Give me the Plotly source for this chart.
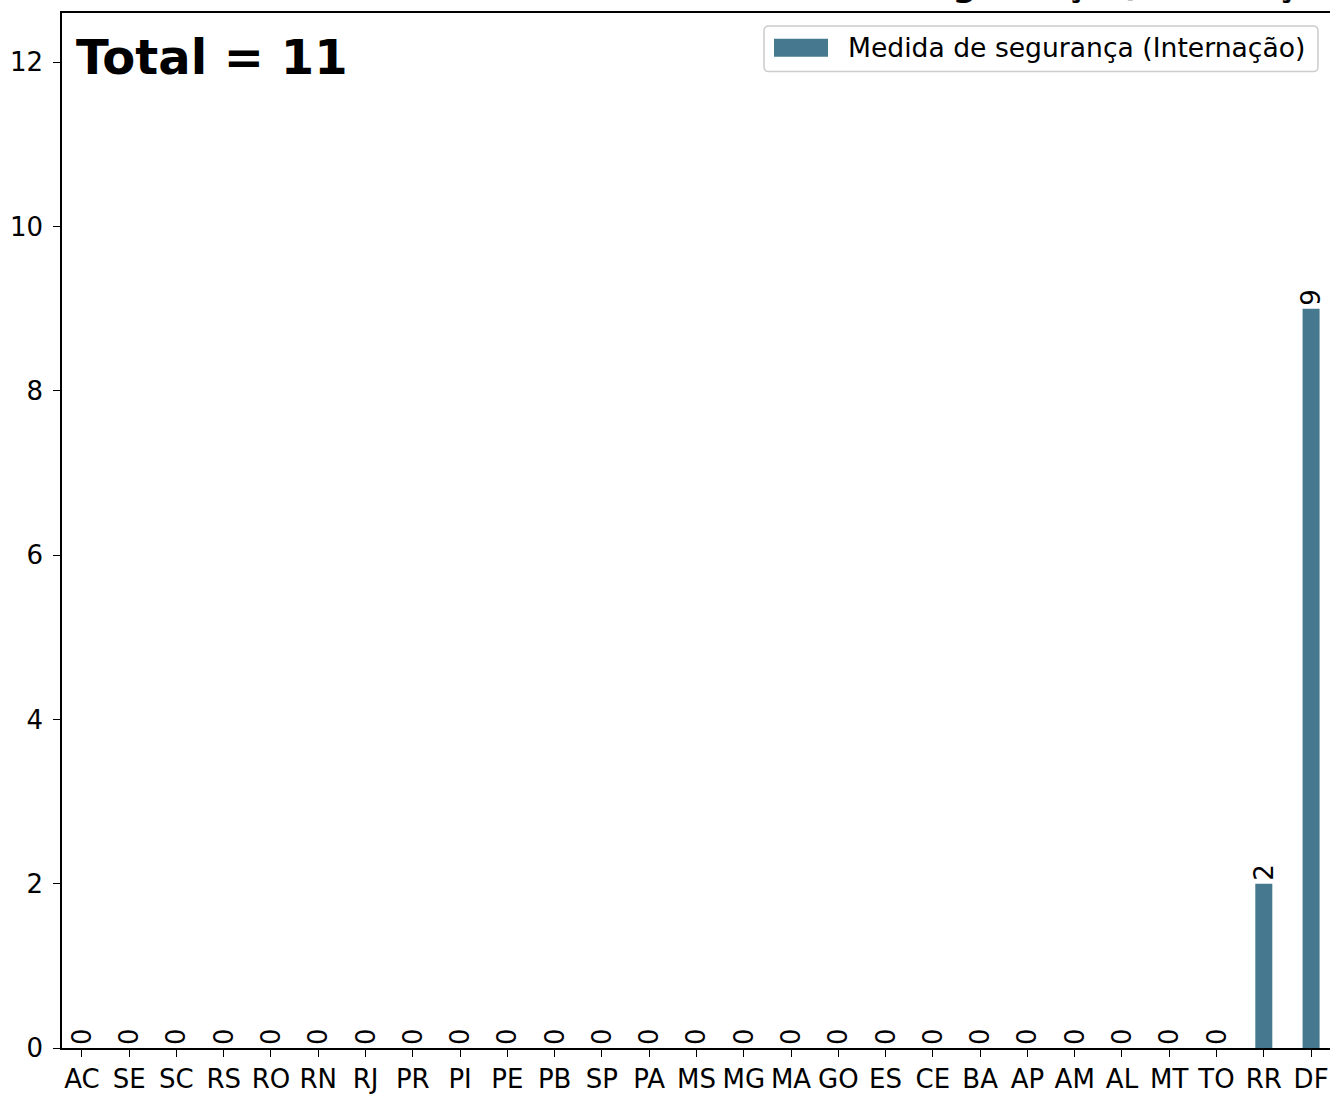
import plotly.graph_objects as go

ESTADOS = ["AC", "SE", "SC", "RS", "RO", "RN", "RJ", "PR", "PI", "PE", "PB", "SP", "PA",
           "MS", "MG", "MA", "GO", "ES", "CE", "BA", "AP", "AM", "AL", "MT", "TO", "RR", "DF"]
VALORES = [0, 0, 0, 0, 0, 0, 0, 0, 0, 0, 0, 0, 0,
           0, 0, 0, 0, 0, 0, 0, 0, 0, 0, 0, 0, 2, 9]
SERIE = "Medida de segurança (Internação)"
COR = "#46788f"
FONT = "DejaVu Sans"
FS = 26

W, H = 1330, 1094
L, R, T, B = 62, 0, 13, 39


def px(x):
    return (x - L) / (W - L - R)


def py(y):
    return 1 - (y - T) / (H - T - B)


fig = go.Figure(go.Bar(
    x=ESTADOS, y=VALORES, name=SERIE, width=0.36,
    marker=dict(color=COR, line=dict(width=0)),
    text=[str(v) for v in VALORES], textposition="outside", textangle=-90,
    textfont=dict(family=FONT, size=FS, color="black"),
    constraintext="none", cliponaxis=False, showlegend=False))

fig.add_annotation(xref="paper", yref="paper", x=0.0, y=1.0, xanchor="left", yanchor="top",
                   xshift=12, yshift=-14, text="<b>Total = 11</b>", showarrow=False,
                   font=dict(family=FONT, size=48, color="black"))
# titulo cortado no topo da imagem
fig.add_annotation(xref="paper", yref="paper", x=0.505, y=1.0, xanchor="left", yanchor="bottom",
                   xshift=-6, yshift=7, text="<b>" + SERIE + "</b>", showarrow=False,
                   font=dict(family=FONT, size=34, color="black"))

# legenda no estilo matplotlib (caixa arredondada, amostra larga)
x0, x1, y0, y1, r = 764, 1318, 26, 72, 5
path = (f"M {px(x0 + r)},{py(y0)} L {px(x1 - r)},{py(y0)} "
        f"Q {px(x1)},{py(y0)} {px(x1)},{py(y0 + r)} L {px(x1)},{py(y1 - r)} "
        f"Q {px(x1)},{py(y1)} {px(x1 - r)},{py(y1)} L {px(x0 + r)},{py(y1)} "
        f"Q {px(x0)},{py(y1)} {px(x0)},{py(y1 - r)} L {px(x0)},{py(y0 + r)} "
        f"Q {px(x0)},{py(y0)} {px(x0 + r)},{py(y0)} Z")
fig.add_shape(type="path", xref="paper", yref="paper", path=path,
              fillcolor="rgba(255,255,255,0.8)", line=dict(color="#cccccc", width=1.5))
fig.add_shape(type="rect", xref="paper", yref="paper", x0=px(774), x1=px(828),
              y0=py(57), y1=py(39), fillcolor=COR, line=dict(width=0))
fig.add_annotation(xref="paper", yref="paper", x=px(846), y=py(48), xanchor="left",
                   yanchor="middle", text=SERIE, showarrow=False,
                   font=dict(family=FONT, size=26.6, color="black"))

fig.update_xaxes(type="category", range=[-0.42, 26.40], showline=True, linecolor="black",
                 linewidth=1.5, mirror=True, ticks="outside", ticklen=7, tickcolor="black",
                 tickfont=dict(family=FONT, size=FS, color="black"), showgrid=False)
fig.update_yaxes(range=[0, 12.6], tickvals=[0, 2, 4, 6, 8, 10, 12], showline=True,
                 linecolor="black", linewidth=1.5, mirror=False, ticks="outside", ticklen=7,
                 tickcolor="black", tickfont=dict(family=FONT, size=FS, color="black"),
                 ticklabelstandoff=5, showgrid=False, zeroline=False)
fig.update_layout(width=W, height=H, margin=dict(l=L, r=R, t=T, b=B),
                  plot_bgcolor="white", paper_bgcolor="white", font=dict(family=FONT),
                  showlegend=False)

fig.write_html("out.html", config={"displayModeBar": False},
               post_script="document.body.style.margin='0';")
